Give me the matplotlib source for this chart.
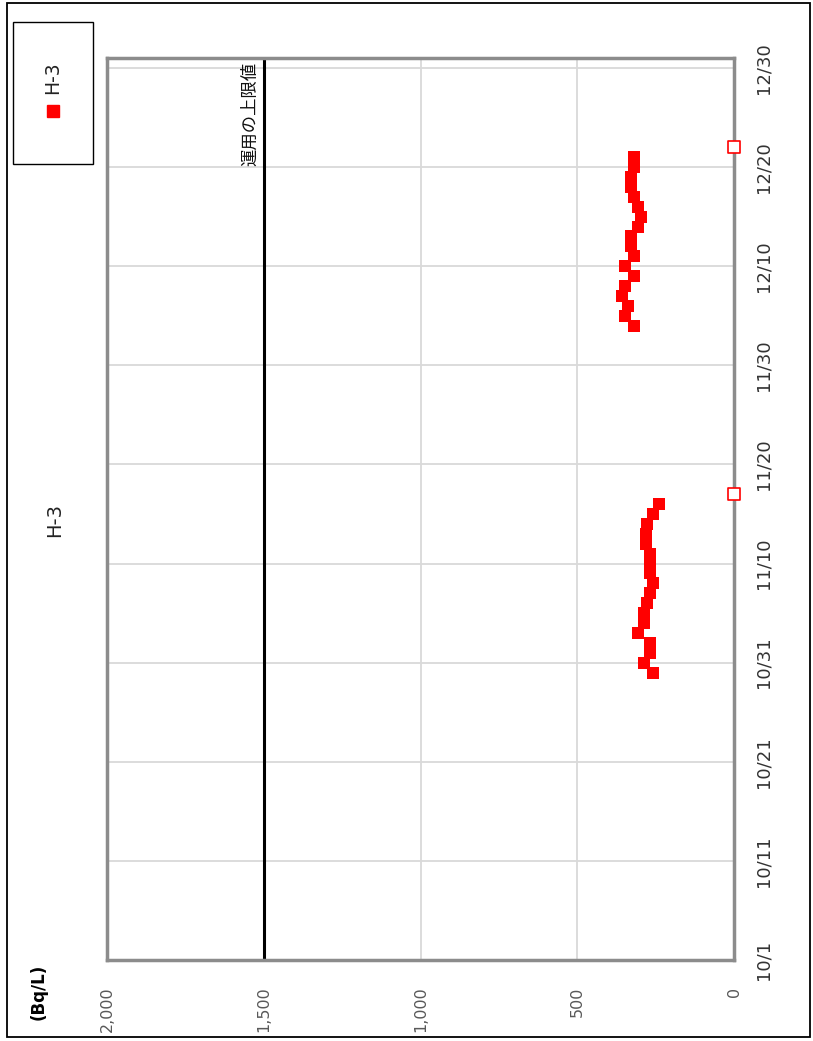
import matplotlib
matplotlib.use('Agg')
import matplotlib.pyplot as plt
import matplotlib.dates as mdates
from matplotlib import font_manager
from matplotlib.patches import Rectangle
from matplotlib.lines import Line2D

# donnees (H-3, Bq/L)
h3_dates = ['2023-10-30', '2023-10-31', '2023-11-01', '2023-11-02', '2023-11-03',
            '2023-11-04', '2023-11-05', '2023-11-06', '2023-11-07', '2023-11-08',
            '2023-11-09', '2023-11-10', '2023-11-11', '2023-11-12', '2023-11-13',
            '2023-11-14', '2023-11-15', '2023-11-16',
            '2023-12-04', '2023-12-05', '2023-12-06', '2023-12-07', '2023-12-08',
            '2023-12-09', '2023-12-10', '2023-12-11', '2023-12-12', '2023-12-13',
            '2023-12-14', '2023-12-15', '2023-12-16', '2023-12-17', '2023-12-18',
            '2023-12-19', '2023-12-20', '2023-12-21']
h3_values = [258, 287, 268, 268, 307, 287, 287, 278, 268, 258,
             268, 268, 268, 281, 281, 278, 258, 238,
             318, 348, 337, 357, 348, 318, 348, 318, 329, 329,
             307, 298, 307, 318, 329, 329, 318, 318]

# points non detectes (marqueurs creux sur l'axe)
nd_dates = ['2023-11-17', '2023-12-22']
nd_values = [0, 0]

date_ticks = ['2023-10-01', '2023-10-11', '2023-10-21', '2023-10-31', '2023-11-10',
              '2023-11-20', '2023-11-30', '2023-12-10', '2023-12-20', '2023-12-30']
date_labels = ['10/1', '10/11', '10/21', '10/31', '11/10',
               '11/20', '11/30', '12/10', '12/20', '12/30']
value_ticks = [0, 500, 1000, 1500, 2000]
limit_value = 1500

plt.rcParams['font.family'] = ['DejaVu Sans', 'Noto Sans CJK JP']

# police etroite pour les dates si disponible
installed = {f.name for f in font_manager.fontManager.ttflist}
if 'Liberation Sans Narrow' in installed:
    date_font, date_size = 'Liberation Sans Narrow', 17
else:
    date_font, date_size = 'DejaVu Sans', 13

W, H = 813, 1041
fig = plt.figure(figsize=(W / 100, H / 100), dpi=100)
ax = fig.add_axes([107 / W, 1 - 960 / H, (734 - 107) / W, (960 - 58) / H])

# graphique tourne de 90 degres : valeurs en horizontal (inversees), dates en vertical
ax.scatter(h3_values, mdates.datestr2num(h3_dates), marker='s', s=78,
           color='#ff0000', linewidths=0, zorder=3)
ax.scatter(nd_values, mdates.datestr2num(nd_dates), marker='s', s=70,
           facecolor='white', edgecolor='#ff0000', linewidths=1.2,
           clip_on=False, zorder=6)

ax.axvline(limit_value, color='black', lw=2.2, zorder=2)
ax.annotate('運用の上限値', xy=(limit_value, 1), xycoords=('data', 'axes fraction'),
            xytext=(-3, -3), textcoords='offset points', rotation=90,
            ha='right', va='top', fontsize=12.5,
            family=['Noto Sans CJK JP', 'DejaVu Sans'], color='#111111')

ax.set_xlim(2000, 0)
ax.set_ylim(mdates.datestr2num('2023-10-01'), mdates.datestr2num('2023-12-31'))

ax.set_xticks(value_ticks)
ax.set_xticklabels([f'{v:,}' for v in value_ticks], rotation=90,
                   fontsize=11.5, color='#595959')
ax.set_yticks(mdates.datestr2num(date_ticks))
ax.set_yticklabels(date_labels, rotation=90, va='center',
                   fontsize=date_size, family=date_font, color='#333333')
ax.yaxis.tick_right()
ax.tick_params(axis='x', length=0, pad=19)
ax.tick_params(axis='y', length=0, pad=15)

ax.grid(True, color='#d9d9d9', lw=1.3, zorder=0)
ax.set_axisbelow(True)
for sp in ax.spines.values():
    sp.set_color('#8c8c8c')
    sp.set_linewidth(2.5)

# cadre exterieur
fig.add_artist(Rectangle((7 / W, 1 - 1037 / H), 803 / W, 1034 / H,
                         transform=fig.transFigure, fill=False,
                         edgecolor='black', lw=1.3))

# legende
fig.add_artist(Rectangle((13 / W, 1 - 164 / H), 80 / W, 142 / H,
                         transform=fig.transFigure, fill=False,
                         edgecolor='black', lw=1))
fig.add_artist(Line2D([53 / W], [1 - 111 / H], marker='s', color='#ff0000',
                      markersize=8.5, transform=fig.transFigure))
fig.text(53 / W, 1 - 78 / H, 'H-3', rotation=90, ha='center', va='center',
         fontsize=13.5, color='#222222')

# titre et unite
fig.text(55 / W, 1 - 520 / H, 'H-3', rotation=90, ha='center', va='center',
         fontsize=14, color='#222222')
fig.text(39 / W, 1 - 992 / H, '(Bq/L)', rotation=90, ha='center', va='center',
         fontsize=12, weight='bold', color='black')

fig.savefig('out.png', dpi=100)
